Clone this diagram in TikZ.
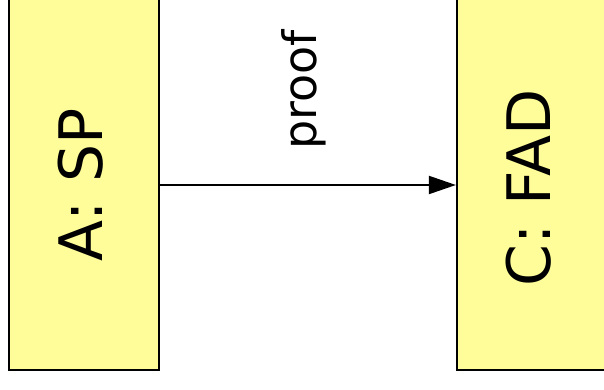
\documentclass[tikz,border=0pt]{standalone}
\usepackage{fontspec}
\setmainfont{DejaVu Sans}
\usetikzlibrary{arrows.meta}
\definecolor{notepad}{RGB}{255,253,153}
\tikzset{
  block/.style={draw=black, line width=2.2pt, fill=notepad, rectangle, inner sep=0pt},
  blocklabel/.style={rotate=90, inner sep=0pt, font=\fontsize{60}{60}\selectfont},
  flow/.style={line width=2pt, -{Triangle[length=27pt,width=18pt]}}
}
\begin{document}
\begin{tikzpicture}[x=1pt,y=1pt]
  \useasboundingbox (0,0) rectangle (604,390);
  \clip (0,0) rectangle (604,390);
  % the two components
  \node[block, minimum width=150pt, minimum height=372pt] (A) at (84,206) {};
  \node[block, minimum width=166pt, minimum height=372pt] (C) at (540,206) {};
  \node[blocklabel] (Alabel) at (81,205) {A: SP};
  \node[blocklabel] (Clabel) at (529,202) {C: FAD};
  % relation between them
  \draw[flow] (A.east |- 0,205) -- (C.west |- 0,205);
  \node[rotate=90, inner sep=0pt, font=\fontsize{46}{46}\selectfont] (proof) at (304,300) {proof};
\end{tikzpicture}
\end{document}
